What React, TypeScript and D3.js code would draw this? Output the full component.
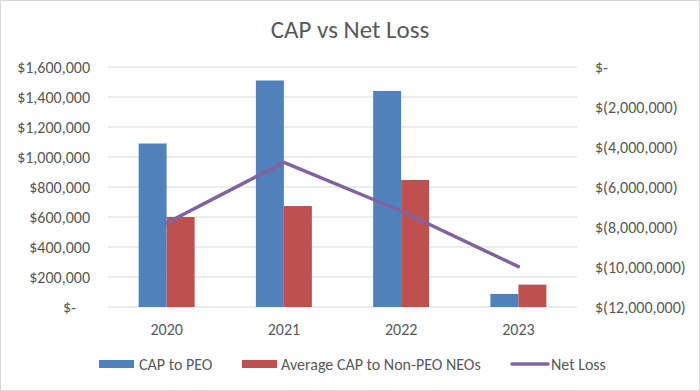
import * as d3 from "d3";

const years = ["2020", "2021", "2022", "2023"];
const capToPeo = [1090000, 1510000, 1440000, 87000];
const avgCapNonPeo = [600000, 673000, 847000, 149000];
const netLoss = [-7800000, -4770000, -7200000, -9980000];
const leftTicks = [0, 200000, 400000, 600000, 800000, 1000000, 1200000, 1400000, 1600000];
const rightTicks = [0, -2000000, -4000000, -6000000, -8000000, -10000000, -12000000];

const W = 700;
const H = 391;
const FONT = "Carlito, 'Open Sans', sans-serif";
const TEXT = "#595959";
const GRID = "#d9d9d9";
const BLUE = "#4f81bd";
const RED = "#c0504d";
const PURPLE = "#8064a2";

const plot = { left: 108, right: 577, top: 67, bottom: 307 };

function leftFmt(v: number) {
    if (v === 0) return "$-";
    return "$" + d3.format(",")(v);
}

function rightFmt(v: number) {
    if (v === 0) return "$-";
    return "$(" + d3.format(",")(Math.abs(v)) + ")";
}

export default function App() {
    const x = d3.scaleBand<string>()
        .domain(years)
        .range([plot.left, plot.right])
        .paddingInner(0)
        .paddingOuter(0);
    const bw = x.bandwidth();
    const barW = bw / (2 + 2.19);
    const yL = d3.scaleLinear().domain([0, 1600000]).range([plot.bottom, plot.top]);
    const yR = d3.scaleLinear().domain([-12000000, 0]).range([plot.bottom, plot.top]);

    const line = d3.line<number>()
        .x((_, i) => (x(years[i]) ?? 0) + bw / 2)
        .y((d) => yR(d));

    return (
        <svg width={W} height={H} style={{ position: "absolute", left: 0, top: 0, fontFamily: FONT }}>
            <rect x={0.5} y={0.5} width={W - 1} height={H - 1} fill="#fff" stroke="#d9d9d9" />
            <text x={350} y={38} textAnchor="middle" fontSize={25} fill={TEXT}>CAP vs Net Loss</text>

            {leftTicks.map((t) => (
                <line key={"g" + t} x1={plot.left} x2={plot.right} y1={yL(t)} y2={yL(t)} stroke={GRID} strokeWidth={1} />
            ))}
            {leftTicks.map((t) => (
                <text key={"l" + t} x={t === 0 ? 76 : 90} y={yL(t)} dy="0.35em" textAnchor="end" fontSize={16} fill={TEXT}>
                    {leftFmt(t)}
                </text>
            ))}
            {rightTicks.map((t) => (
                <text key={"r" + t} x={595} y={yR(t)} dy="0.35em" textAnchor="start" fontSize={16} fill={TEXT}>
                    {rightFmt(t)}
                </text>
            ))}

            {years.map((yr, i) => {
                const cx = (x(yr) ?? 0) + bw / 2;
                return (
                    <g key={yr}>
                        <rect x={cx - barW} y={yL(capToPeo[i])} width={barW} height={yL(0) - yL(capToPeo[i])} fill={BLUE} />
                        <rect x={cx} y={yL(avgCapNonPeo[i])} width={barW} height={yL(0) - yL(avgCapNonPeo[i])} fill={RED} />
                        <text x={cx} y={329} dy="0.35em" textAnchor="middle" fontSize={16} fill={TEXT}>{yr}</text>
                    </g>
                );
            })}

            <path d={line(netLoss) ?? ""} fill="none" stroke={PURPLE} strokeWidth={3.5} strokeLinecap="round" strokeLinejoin="round" />

            <g fontSize={16} fill={TEXT}>
                <rect x={99} y={360} width={35} height={8} fill={BLUE} />
                <text x={139} y={364} dy="0.35em">CAP to PEO</text>
                <rect x={242} y={360} width={35} height={8} fill={RED} />
                <text x={281} y={364} dy="0.35em">Average CAP to Non-PEO NEOs</text>
                <line x1={512} x2={548} y1={364} y2={364} stroke={PURPLE} strokeWidth={3.5} strokeLinecap="round" />
                <text x={551} y={364} dy="0.35em">Net Loss</text>
            </g>
        </svg>
    );
}
